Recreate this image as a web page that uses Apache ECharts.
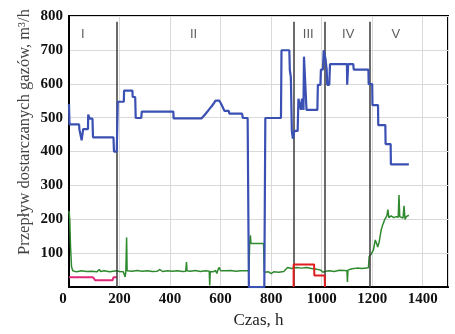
<!DOCTYPE html>
<html>
<head>
<meta charset="utf-8">
<script src="https://cdn.jsdelivr.net/npm/echarts@6/dist/echarts.min.js"></script>
<style>html,body{margin:0;padding:0;background:#fff}#c{width:455px;height:334px}</style>
</head>
<body>
<div id="c"></div>
<script>
// ---- data ----
const xTicks = [0, 200, 400, 600, 800, 1000, 1200, 1400];
const yTicks = [0, 100, 200, 300, 400, 500, 600, 700, 800];

const blueTime = [0,2,40,41,48,50,53,56,75,76,79,82,93,95,176,178,189,193,217,218,251,252,262,264,286,288,413,414,525,532,540,548,556,564,572,580,595,602,609,615,632,635,685,688,707,712,773,777,839,841,872,874,878,882,886,890,892,905,908,915,918,922,928,930,937,940,983,985,995,997,1005,1008,1012,1015,1020,1022,1030,1033,1100,1101,1104,1105,1125,1127,1185,1186,1200,1201,1223,1224,1252,1253,1273,1274,1345];
const blueFlow = [540,480,480,466,466,433,433,466,466,509,509,497,497,442,442,400,400,547,547,580,580,561,561,499,499,518,518,498,498,504,511,518,526,533,541,550,550,541,530,520,520,512,512,499,499,0,0,499,499,699,699,640,620,461,438,438,461,461,556,556,523,556,523,680,680,523,523,597,597,642,642,699,699,675,640,597,597,658,658,597,597,658,658,642,642,599,599,537,537,478,478,422,422,362,362];

const greenTime = [0,3,6,10,15,30,50,70,90,110,120,125,140,160,175,189,200,215,222,225,228,230,250,270,290,310,330,350,360,370,390,410,430,450,462,465,467,480,500,520,540,555,557,559,570,580,585,590,595,600,620,640,660,680,700,712,715,718,720,770,773,790,800,810,830,850,865,880,900,920,940,960,980,997,1005,1015,1030,1050,1070,1090,1100,1102,1104,1120,1140,1160,1185,1188,1195,1205,1212,1218,1222,1228,1235,1240,1250,1258,1262,1266,1275,1285,1295,1303,1306,1309,1315,1322,1326,1330,1335,1340,1345];
const greenFlow = [225,200,120,60,48,45,48,46,47,45,52,46,48,45,47,48,46,45,30,46,146,48,47,49,47,48,46,47,52,46,48,47,48,46,47,74,48,47,49,46,48,47,5,46,45,49,40,52,58,48,48,49,47,48,48,48,129,153,129,129,44,45,40,45,44,46,58,55,58,56,58,55,53,50,44,47,48,46,50,49,48,15,50,54,56,55,57,90,96,110,139,128,118,135,167,180,200,210,229,205,210,205,208,206,272,208,205,204,240,200,208,205,212];

const redTime = [889,889,970,971,1012,1013];
const redFlow = [0,67,67,34,34,0];

const pinkTime = [0,95,104,172,176,189];
const pinkFlow = [29,29,20,20,29,29];

const phaseBounds = [189, 889, 1012, 1190];
const phaseLabels = ['I', 'II', 'III', 'IV', 'V'];
const phaseLabelX = [55, 493, 947, 1105, 1294];
const phaseLabelY = 746;
const phaseLineTop = 783;

const zip = (a, b) => a.map((v, i) => [v, b[i]]);

const chart = echarts.init(document.getElementById('c'), null, {renderer: 'canvas'});
const serif = 'Liberation Serif';
chart.setOption({
  animation: false,
  backgroundColor: '#fff',
  grid: {left: 69, right: 7, top: 16, bottom: 37, show: true, borderColor: '#000', borderWidth: 2, backgroundColor: '#fff'},
  xAxis: {
    type: 'value', min: 0, max: 1500, interval: 200,
    name: 'Czas, h', nameLocation: 'middle', nameGap: 20,
    nameTextStyle: {fontFamily: serif, fontSize: 17, color: '#222'},
    axisLine: {show: true, lineStyle: {color: '#000', width: 2}},
    axisTick: {show: false},
    splitLine: {show: true, lineStyle: {color: '#d9d9d9', width: 1}},
    axisLabel: {
      fontFamily: serif, fontWeight: 'bold', fontSize: 15, color: '#111', margin: 5,
      formatter: v => xTicks.indexOf(v) < 0 ? '' : (v === 0 ? '{z|0}' : String(v)),
      rich: {z: {fontFamily: serif, fontWeight: 'bold', fontSize: 15, color: '#111', padding: [0, 12, 0, 0]}}
    }
  },
  yAxis: {
    type: 'value', min: 0, max: 800, interval: 100,
    axisLine: {show: true, lineStyle: {color: '#000', width: 2}},
    axisTick: {show: false},
    splitLine: {show: true, lineStyle: {color: '#d9d9d9', width: 1}},
    axisLabel: {
      fontFamily: serif, fontWeight: 'bold', fontSize: 15, color: '#111', margin: 6,
      formatter: v => (v === 0 || yTicks.indexOf(v) < 0) ? '' : String(v)
    }
  },
  graphic: [{
    type: 'text', x: 25, y: 132, rotation: Math.PI / 2,
    style: {text: 'Przepływ dostarczanych gazów, m³/h', font: '16.5px "Liberation Serif"', fill: '#444', textAlign: 'center', textVerticalAlign: 'middle'}
  }],
  series: [
    {
      type: 'line', data: zip(pinkTime, pinkFlow), showSymbol: false, silent: true,
      lineStyle: {color: '#e0287a', width: 2}, z: 3
    },
    {
      type: 'line', data: zip(greenTime, greenFlow), showSymbol: false, silent: true,
      lineStyle: {color: '#2f8a2f', width: 1.5}, z: 4
    },
    {
      type: 'line', data: zip(redTime, redFlow), showSymbol: false, silent: true,
      lineStyle: {color: '#e01e1e', width: 2}, z: 5
    },
    {
      type: 'line', data: zip(blueTime, blueFlow), showSymbol: false, silent: true,
      lineStyle: {color: '#3a50b2', width: 2.2}, z: 6,
      markLine: {
        silent: true, symbol: ['none', 'none'], label: {show: false},
        lineStyle: {color: '#3a3a3a', width: 1.5, type: 'solid'},
        data: phaseBounds.map(t => [{coord: [t, 0]}, {coord: [t, phaseLineTop]}])
      }
    },
    {
      type: 'scatter', symbolSize: 0, silent: true,
      data: phaseLabelX.map((x, i) => [x, phaseLabelY, phaseLabels[i]]),
      label: {show: true, position: 'inside', formatter: p => p.data[2], fontFamily: 'Liberation Sans', fontSize: 13, color: '#333'}
    }
  ]
});
</script>
</body>
</html>
